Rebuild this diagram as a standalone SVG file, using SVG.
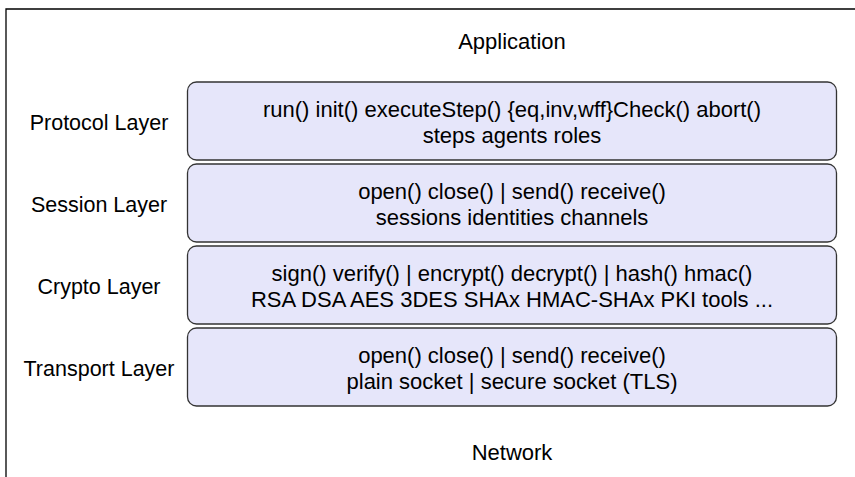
<svg xmlns="http://www.w3.org/2000/svg" width="855" height="477" viewBox="0 0 855 477">
<style>
text{font-family:"Liberation Sans",Arial,sans-serif;font-size:22px;fill:#000;text-anchor:middle}
.lbl{font-size:21.5px}
.box{fill:#e6e6fa;stroke:#333;stroke-width:1.3}
.frame{fill:none;stroke:#000;stroke-width:1.3}
</style>
<rect x="0" y="0" width="855" height="477" fill="#fff"/>
<g id="frame"><path class="frame" d="M6,477 V9 H855"/></g>
<g id="application"><text x="512" y="49">Application</text></g>
<g id="protocol">
<rect class="box" x="187.5" y="82" width="649" height="78" rx="9"/>
<text class="lbl" x="99" y="130">Protocol Layer</text>
<text x="512" y="117">run() init() executeStep() {eq,inv,wff}Check() abort()</text>
<text x="512" y="143">steps agents roles</text>
</g>
<g id="session">
<rect class="box" x="187.5" y="164" width="649" height="78" rx="9"/>
<text class="lbl" x="99" y="212">Session Layer</text>
<text x="512" y="199">open() close() | send() receive()</text>
<text x="512" y="225">sessions identities channels</text>
</g>
<g id="crypto">
<rect class="box" x="187.5" y="246" width="649" height="78" rx="9"/>
<text class="lbl" x="99" y="294">Crypto Layer</text>
<text x="512" y="281">sign() verify() | encrypt() decrypt() | hash() hmac()</text>
<text x="512" y="307">RSA DSA AES 3DES SHAx HMAC-SHAx PKI tools ...</text>
</g>
<g id="transport">
<rect class="box" x="187.5" y="328" width="649" height="78" rx="9"/>
<text class="lbl" x="99" y="376">Transport Layer</text>
<text x="512" y="363">open() close() | send() receive()</text>
<text x="512" y="389">plain socket | secure socket (TLS)</text>
</g>
<g id="network"><text x="512" y="460">Network</text></g>
<g id="connectors"></g>
</svg>
